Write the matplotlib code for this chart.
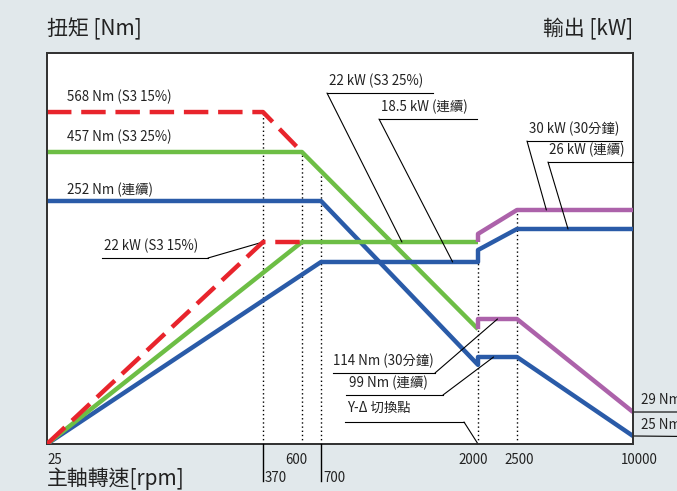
import numpy as np
import matplotlib
matplotlib.use("Agg")
import matplotlib.pyplot as plt
from matplotlib.lines import Line2D

plt.rcParams['font.family'] = ['Noto Sans CJK TC', 'DejaVu Sans']

# ---------------- data ----------------
# torque curves (speed rpm, torque Nm)
speed_red_T = [25, 370, 600]
torque_red = [568, 568, 457]
speed_green_T = [25, 600, 2000]
torque_green = [457, 457, 110]
speed_blue_T = [25, 700, 2000, 2000, 2500, 10000]
torque_blue = [252, 252, 89, 99, 99, 25]
speed_purple_T = [2000, 2000, 2500, 10000]
torque_purple = [110, 114, 114, 29]

# power curves (speed rpm, power kW)
speed_red_P = [25, 370, 600]
power_red = [0, 22, 22]
speed_green_P = [25, 600, 2000]
power_green = [0, 22, 22]
speed_blue_P = [25, 700, 2000, 2000, 2500, 10000]
power_blue = [0, 18.5, 18.5, 20.6, 26, 26]
speed_purple_P = [2000, 2000, 2500, 10000]
power_purple = [22, 24.5, 30, 30]

speed_ticks = [25, 600, 2000, 2500, 10000]
speed_ticks_low = [370, 700]
dotted_speeds = [370, 600, 700, 2000, 2500]

# ---------------- schematic (piecewise) scales ----------------
x_knots_v = [25, 370, 600, 700, 2000, 2500, 10000]
x_knots_f = [0, 0.3686, 0.435, 0.4676, 0.7355, 0.802, 1.0]
t_knots_v = [0, 25, 29, 99, 114, 252, 457, 568, 650]
t_knots_f = [0, 0.0205, 0.0818, 0.2225, 0.3197, 0.6215, 0.7468, 0.849, 1.0]
p_knots_v = [0, 18.5, 22, 26, 30, 60]
p_knots_f = [0, 0.4655, 0.5166, 0.5499, 0.5985, 1.0]


def pw(kv, kf):
    fwd = lambda v: np.interp(v, kv, kf)
    inv = lambda f: np.interp(f, kf, kv)
    return (fwd, inv)


RED = '#E8242C'
GREEN = '#6DBE45'
BLUE = '#2A5BA8'
PURPLE = '#AC62AA'
BG = '#E1E8EB'
FRAME = '#333333'

W, H = 677, 491
fig = plt.figure(figsize=(W / 100, H / 100), dpi=100, facecolor=BG)
L, R, T, B = 47, 633, 53, 444
ax = fig.add_axes([L / W, 1 - B / H, (R - L) / W, (B - T) / H])
ax.set_facecolor('white')
ax.set_xscale('function', functions=pw(x_knots_v, x_knots_f))
ax.set_yscale('function', functions=pw(t_knots_v, t_knots_f))
ax.set_xlim(25, 10000)
ax.set_ylim(0, 650)

ax2 = ax.twinx()
ax2.set_yscale('function', functions=pw(p_knots_v, p_knots_f))
ax2.set_ylim(0, 60)

for a in (ax, ax2):
    a.set_xticks([])
    a.set_yticks([])
    a.tick_params(which='both', length=0, labelleft=False, labelright=False, labelbottom=False)
    for s in a.spines.values():
        s.set_color(FRAME)
        s.set_linewidth(1.3)

LW = 3.2
# dotted verticals (start heights as axis fraction)
dot_tops = [0.849, 0.7468, 0.69, 0.465, 0.596]
for xs, top in zip(dotted_speeds, dot_tops):
    ax.axvline(xs, ymin=0, ymax=top, color='black', lw=1.0, ls=(0, (1, 2)), zorder=1)

# torque lines
ax.plot(speed_green_T, torque_green, color=GREEN, lw=LW, solid_capstyle='butt', zorder=3)
ax.plot(speed_blue_T, torque_blue, color=BLUE, lw=LW, solid_capstyle='butt', zorder=3)
ax.plot(speed_purple_T, torque_purple, color=PURPLE, lw=LW, solid_capstyle='butt', zorder=3)
ax.plot(speed_red_T, torque_red, color=RED, lw=LW, ls=(0, (5.5, 2.2)), zorder=4)

# power lines
ax2.plot(speed_blue_P, power_blue, color=BLUE, lw=LW, solid_capstyle='butt', zorder=3)
ax2.plot(speed_green_P, power_green, color=GREEN, lw=LW, solid_capstyle='butt', zorder=3)
ax2.plot(speed_purple_P, power_purple, color=PURPLE, lw=LW, solid_capstyle='butt', zorder=3)
ax2.plot(speed_red_P, power_red, color=RED, lw=LW, ls=(0, (5.5, 2.2)), zorder=4)

FS = 9.6


def ftext(x, y, s, ha='left', size=FS, va='center'):
    fig.text(x / W, 1 - y / H, s, ha=ha, va=va, fontsize=size, color='#222222')


def fline(xs, ys, lw=0.8):
    fig.add_artist(Line2D([x / W for x in xs], [1 - y / H for y in ys],
                          color='black', lw=lw, transform=fig.transFigure))


def leader(axis, pt, start):
    axis.annotate('', xy=pt, xycoords='data',
                  xytext=(start[0], H - start[1]), textcoords='figure pixels',
                  arrowprops=dict(arrowstyle='-', lw=0.8, color='black', shrinkA=0, shrinkB=0),
                  annotation_clip=False)


# axis titles
ftext(47, 29, '扭矩 [Nm]', size=15)
ftext(633, 29, '輸出 [kW]', ha='right', size=15)
ftext(47, 479, '主軸轉速[rpm]', size=15)

# x tick labels
tick_pos = {25: (47, 'left'), 600: (296, 'center'), 2000: (473, 'center'),
            2500: (519, 'center'), 10000: (639, 'center')}
for v in speed_ticks:
    xp, ha = tick_pos[v]
    ftext(xp, 460, str(v), ha=ha)
low_pos = {370: 263, 700: 321}
for v in speed_ticks_low:
    xp = low_pos[v]
    fline([xp, xp], [444, 481], lw=1.0)
    ftext(xp + 2, 478, str(v))

# curve labels
ftext(67, 97, '568 Nm (S3 15%)')
ftext(67, 137, '457 Nm (S3 25%)')
ftext(67, 190, '252 Nm (連續)')

ftext(104, 246, '22 kW (S3 15%)')
fline([102, 208], [258, 258])
leader(ax2, (370, 22), (208, 258))

ftext(329, 81, '22 kW (S3 25%)')
fline([327, 433], [93, 93])
leader(ax2, (1370, 22), (327, 93))

ftext(381, 107, '18.5 kW (連續)')
fline([379, 477], [119, 119])
leader(ax2, (1790, 18.5), (379, 119))

ftext(529, 129, '30 kW (30分鐘)')
fline([527, 622], [141, 141])
leader(ax2, (4400, 30), (527, 141))

ftext(549, 150, '26 kW (連續)')
fline([548, 633], [162, 162])
leader(ax2, (5800, 26), (548, 162))

ftext(333, 361, '114 Nm (30分鐘)')
fline([333, 435], [373, 373])
leader(ax, (2250, 114), (435, 373))

ftext(349, 383, '99 Nm (連續)')
fline([346, 443], [395, 395])
leader(ax, (2200, 99), (443, 395))

ftext(347, 408, 'Y-Δ 切換點')
fline([345, 464], [422, 422])
leader(ax, (2000, 0), (464, 422))

ftext(641, 400, '29 Nm')
leader(ax, (10000, 29), (690, 412))
ftext(641, 425, '25 Nm')
leader(ax, (10000, 25), (690, 436.5))

fig.savefig('out.png', dpi=100, facecolor=BG)
